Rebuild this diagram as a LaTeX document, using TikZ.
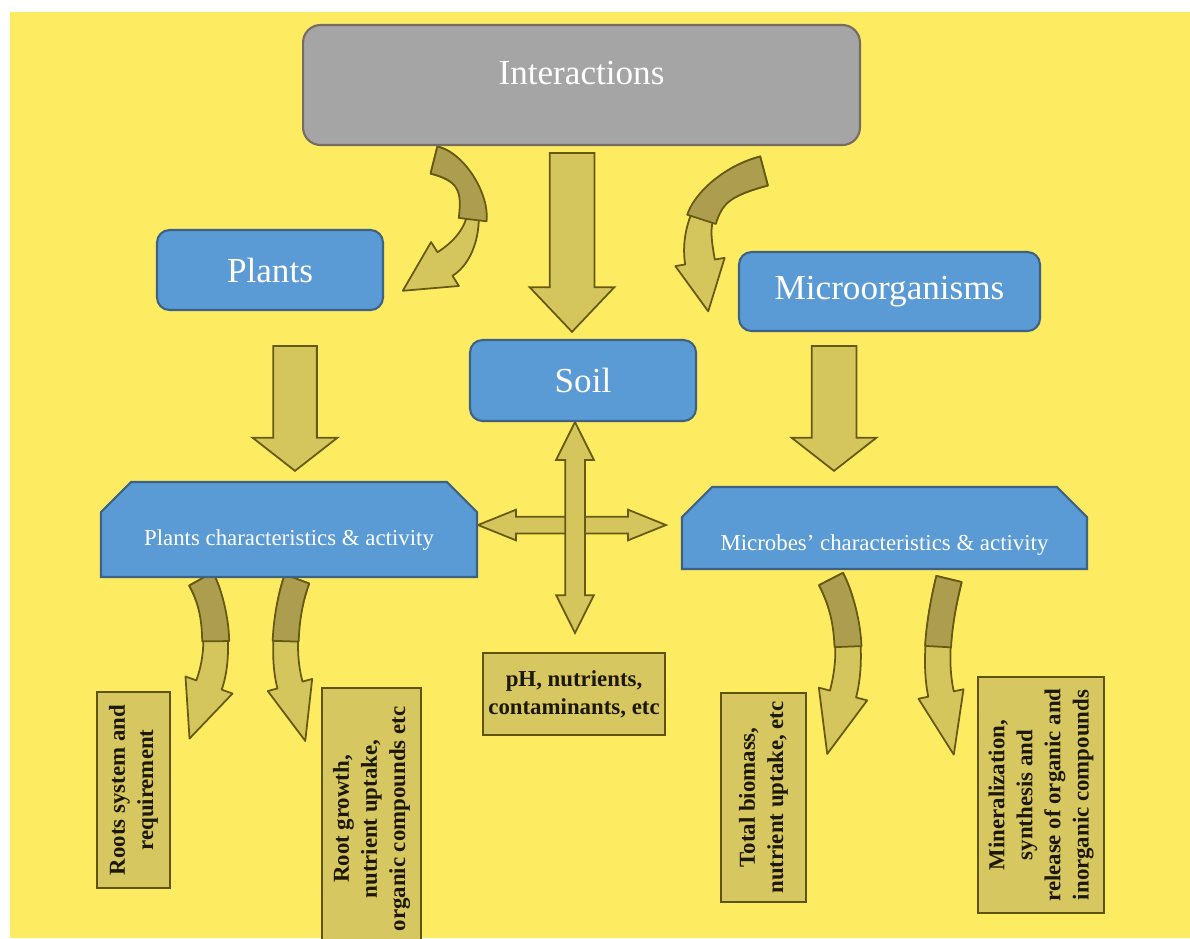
\documentclass[tikz,border=0pt]{standalone}
\usepackage{fontspec}
\setmainfont{Liberation Serif}
\usepackage{tikz}
\usetikzlibrary{shapes.arrows,shapes.misc,calc,positioning}
\definecolor{paper}{RGB}{253,235,98}
\definecolor{interfill}{RGB}{165,165,165}
\definecolor{interline}{RGB}{118,108,98}
\definecolor{bluefill}{RGB}{91,155,213}
\definecolor{blueline}{RGB}{62,98,132}
\definecolor{arrowfill}{RGB}{212,197,92}
\definecolor{arrowdark}{RGB}{172,158,78}
\definecolor{arrowline}{RGB}{102,90,18}
\definecolor{notefill}{RGB}{214,199,96}
\definecolor{noteline}{RGB}{96,84,12}
\definecolor{notetext}{RGB}{28,24,4}
\tikzset{topbox/.style={draw=interline, line width=1.2pt, fill=interfill, rounded corners=0.35cm, inner sep=0pt, text=white, font=\fontsize{20}{24}\selectfont}}
\tikzset{bluebox/.style={draw=blueline, line width=1.2pt, fill=bluefill, rounded corners=0.25cm, inner sep=0pt, text=white, font=\fontsize{20}{24}\selectfont}}
\tikzset{charbox/.style={draw=blueline, line width=1.2pt, fill=bluefill, chamfered rectangle, chamfered rectangle corners={north west,north east}, chamfered rectangle xsep=0.3cm, chamfered rectangle ysep=0.3cm, inner sep=0pt, text=white, font=\fontsize{13}{15}\selectfont}}
\tikzset{notebox/.style={draw=noteline, line width=1.2pt, fill=notefill, inner sep=0pt, text=notetext, align=center, font=\bfseries\fontsize{13}{16}\selectfont}}
\tikzset{blockdown/.style={single arrow, draw=arrowline, line width=1pt, fill=arrowfill, rotate=-90, anchor=tail, inner sep=0pt, text depth=0pt, minimum width=1.66cm}}
\tikzset{bothways/.style={double arrow, draw=arrowline, line width=1pt, fill=arrowfill, inner sep=0pt, text depth=0pt}}
\tikzset{arrowbody/.style={draw=arrowline, line width=1pt, fill=arrowfill, line join=round}}
\newcommand{\bendarrow}[7]{
	\filldraw[arrowbody] ($(#1)!#5!90:(#2)$) .. controls ($(#2)!#5!-90:(#1)$) and ($(#3)!#5!90:(#4)$) .. ($(#4)!#5!-90:(#3)$)
		-- ($(#4)!#6!-90:(#3)$) -- ($(#4)!-#7!(#3)$) -- ($(#4)!#6!90:(#3)$) -- ($(#4)!#5!90:(#3)$)
		.. controls ($(#3)!#5!-90:(#4)$) and ($(#2)!#5!90:(#1)$) .. ($(#1)!#5!-90:(#2)$) -- cycle;
	\coordinate (q1) at ($0.4*(#1)+0.6*(#2)$);
	\coordinate (q2) at ($0.16*(#1)+0.48*(#2)+0.36*(#3)$);
	\coordinate (q3) at ($0.064*(#1)+0.288*(#2)+0.432*(#3)+0.216*(#4)$);
	\filldraw[arrowbody, fill=arrowdark] ($(#1)!#5!90:(q1)$) .. controls ($(q1)!#5!-90:(#1)$) and ($(q2)!#5!90:(q3)$) .. ($(q3)!#5!-90:(q2)$)
		-- ($(q3)!#5!90:(q2)$) .. controls ($(q2)!#5!-90:(q3)$) and ($(q1)!#5!90:(#1)$) .. ($(#1)!#5!-90:(q1)$) -- cycle;
}

\begin{document}
\begin{tikzpicture}[x=0.02cm, y=-0.02cm]
	\useasboundingbox (0,0) rectangle (1190,938);
	\fill[white] (0,0) rectangle (1190,938);
	\fill[paper] (10,12) rectangle (1190,938);
	
	\bendarrow{434,160}{482,172}{486,238}{445,264}{0.28cm}{0.52cm}{1.0cm}
	\bendarrow{764,171}{700,188}{694,226}{700,262}{0.3cm}{0.5cm}{1.0cm}
	\bendarrow{201,579}{216,606}{221,652}{209,685}{0.27cm}{0.5cm}{1.14cm}
	\bendarrow{297,579}{287,606}{281,652}{290,685}{0.26cm}{0.46cm}{1.16cm}
	\bendarrow{831,579}{848,612}{853,656}{843,694}{0.27cm}{0.5cm}{1.24cm}
	\bendarrow{949,579}{941,612}{933,656}{941,694}{0.26cm}{0.46cm}{1.24cm}
	
	\node[blockdown, minimum height=3.58cm, text height=0.86cm, single arrow head extend=0.4cm, single arrow tip angle=87] (down1) at (572,152) {};
	\node[blockdown, minimum height=2.5cm, text height=0.84cm, single arrow head extend=0.41cm, single arrow tip angle=104] (down2) at (295,345) {};
	\node[blockdown, minimum height=2.5cm, text height=0.86cm, single arrow head extend=0.4cm, single arrow tip angle=104] (down3) at (834,345) {};
	\node[bothways, minimum height=3.76cm, text height=0.3cm, double arrow head extend=0.14cm, double arrow tip angle=44] (hcross) at (572,525) {};
	\node[bothways, rotate=90, minimum height=4.22cm, text height=0.36cm, double arrow head extend=0.18cm, double arrow tip angle=53] (vcross) at (575,527.5) {};
	
	\node[topbox, minimum width=11.14cm, minimum height=2.4cm, text height=0.32cm, text depth=0.36cm] (inter) at (581.5,85) {Interactions};
	\node[bluebox, minimum width=4.52cm, minimum height=1.6cm] (plants) at (270,270) {Plants};
	\node[bluebox, minimum width=4.52cm, minimum height=1.62cm] (soil) at (583,380.5) {Soil};
	\node[bluebox, minimum width=6.02cm, minimum height=1.58cm] (micro) at (889.5,291.5) {Microorganisms};
	\node[charbox, minimum width=7.52cm, minimum height=1.9cm, text height=0.70cm, text depth=0.08cm] (pchar) at (289,529.5) {Plants characteristics \& activity};
	\node[charbox, minimum width=8.1cm, minimum height=1.6cm, text height=0.96cm, text depth=0.08cm] (mchar) at (884.5,528) {Microbes' characteristics \& activity};
	
	\node[notebox, rotate=90, minimum width=3.92cm, minimum height=1.46cm] (roots) at (133.5,790) {Roots system and\\requirement};
	\node[notebox, rotate=90, minimum width=5.24cm, minimum height=1.98cm] (growth) at (371.5,819) {Root growth,\\nutrient uptake,\\organic compounds etc};
	\node[notebox, minimum width=3.64cm, minimum height=1.64cm] (soilprops) at (574,694) {pH, nutrients,\\contaminants, etc};
	\node[notebox, rotate=90, minimum width=4.18cm, minimum height=1.7cm] (biomass) at (763.5,797.5) {Total biomass,\\nutrient uptake, etc};
	\node[notebox, rotate=90, minimum width=4.72cm, minimum height=2.52cm] (minz) at (1041,795) {Mineralization,\\synthesis and\\release of organic and\\inorganic compounds};
\end{tikzpicture}
\end{document}
